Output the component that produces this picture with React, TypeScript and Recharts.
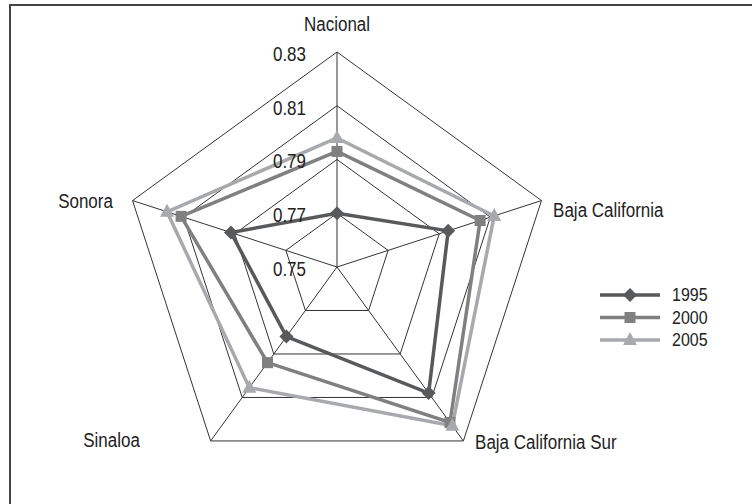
import { RadarChart, Radar, PolarGrid, PolarAngleAxis, PolarRadiusAxis, Legend } from 'recharts';

const categories = ['Nacional', 'Baja California', 'Baja California Sur', 'Sinaloa', 'Sonora'];
const values1995 = [0.77, 0.7935, 0.808, 0.782, 0.7915];
const values2000 = [0.793, 0.806, 0.8215, 0.794, 0.811];
const values2005 = [0.798, 0.8115, 0.823, 0.8055, 0.8165];
const seriesNames = ['1995', '2000', '2005'];
const radiusDomain = [0.75, 0.83];

const data = categories.map((name, i) => ({
  name,
  y1995: values1995[i],
  y2000: values2000[i],
  y2005: values2005[i],
}));

const FONT = '"Liberation Sans", Arial, sans-serif';
const colors = ['#58595b', '#808080', '#a7a9ac'];

// per-label nudges so the category names sit where the original has them
const labelOffsets = [
  { dx: 0, dy: -20, anchor: 'middle' },
  { dx: 4, dy: 12, anchor: 'start' },
  { dx: 7, dy: -5, anchor: 'start' },
  { dx: -66, dy: -7, anchor: 'end' },
  { dx: -12, dy: 3, anchor: 'end' },
];

function Marker({ shape, cx, cy, color }: { shape: number; cx: number; cy: number; color: string }) {
  if (shape === 0) {
    return <polygon points={`${cx},${cy - 7} ${cx + 7},${cy} ${cx},${cy + 7} ${cx - 7},${cy}`} fill={color} />;
  }
  if (shape === 1) {
    return <rect x={cx - 5.5} y={cy - 5.5} width={11} height={11} fill={color} />;
  }
  return <polygon points={`${cx},${cy - 8} ${cx + 7},${cy + 5} ${cx - 7},${cy + 5}`} fill={color} />;
}

const dotFor = (shape: number) => (props: any) => (
  <Marker key={`d${shape}-${props.index}`} shape={shape} cx={props.cx} cy={props.cy} color={colors[shape]} />
);

function AngleTick(props: any) {
  const { x, y, payload, index } = props;
  const o = labelOffsets[index] || { dx: 0, dy: 0, anchor: 'middle' };
  return (
    <text
      transform={`translate(${x + o.dx},${y + o.dy}) scale(1,1.15)`}
      textAnchor={o.anchor}
      dominantBaseline="central"
      fontFamily={FONT}
      fontSize={17}
      fill="#222"
    >
      {payload.value}
    </text>
  );
}

function RadiusTick(props: any) {
  const { x, y, payload } = props;
  return (
    <text
      transform={`translate(${x - 31},${y + 2}) scale(1,1.15)`}
      textAnchor="end"
      dominantBaseline="central"
      fontFamily={FONT}
      fontSize={17}
      fill="#222"
    >
      {Number(payload.value).toFixed(2)}
    </text>
  );
}

function LegendContent() {
  return (
    <svg width={130} height={70}>
      {seriesNames.map((name, i) => {
        const y = 11 + i * 22.5;
        return (
          <g key={name}>
            <line x1={10} x2={70} y1={y} y2={y} stroke={colors[i]} strokeWidth={3.5} />
            <Marker shape={i} cx={40} cy={y} color={colors[i]} />
            <text
              transform={`translate(82,${y}) scale(1,1.15)`}
              dominantBaseline="central"
              fontFamily={FONT}
              fontSize={16}
              fill="#222"
            >
              {name}
            </text>
          </g>
        );
      })}
    </svg>
  );
}

export default function App() {
  return (
    <div style={{ position: 'fixed', left: 0, top: 0, width: 752, height: 504, background: '#fff', overflow: 'hidden' }}>
      <div
        style={{
          position: 'absolute',
          left: 9,
          top: 4,
          width: 800,
          height: 600,
          borderTop: '2px solid #444',
          borderLeft: '2px solid #444',
        }}
      />
      <div style={{ position: 'absolute', left: 0, top: 0 }}>
        <RadarChart width={752} height={504} data={data} cx={337} cy={267} outerRadius={215}>
          <PolarGrid gridType="polygon" stroke="#333" strokeWidth={1} />
          <PolarAngleAxis dataKey="name" tick={<AngleTick />} tickLine={false} axisLine={false} />
          <PolarRadiusAxis
            type="number"
            angle={90}
            domain={() => radiusDomain}
            tickCount={5}
            allowDecimals
            allowDataOverflow
            axisLine={false}
            tickLine={false}
            tick={<RadiusTick />}
          />
          <Radar name="1995" dataKey="y1995" stroke={colors[0]} strokeWidth={3.5} fill="none" fillOpacity={0} dot={dotFor(0)} isAnimationActive={false} />
          <Radar name="2000" dataKey="y2000" stroke={colors[1]} strokeWidth={3.5} fill="none" fillOpacity={0} dot={dotFor(1)} isAnimationActive={false} />
          <Radar name="2005" dataKey="y2005" stroke={colors[2]} strokeWidth={3.5} fill="none" fillOpacity={0} dot={dotFor(2)} isAnimationActive={false} />
          <Legend content={<LegendContent />} wrapperStyle={{ position: 'absolute', left: 590, top: 284, width: 130 }} />
        </RadarChart>
      </div>
    </div>
  );
}
